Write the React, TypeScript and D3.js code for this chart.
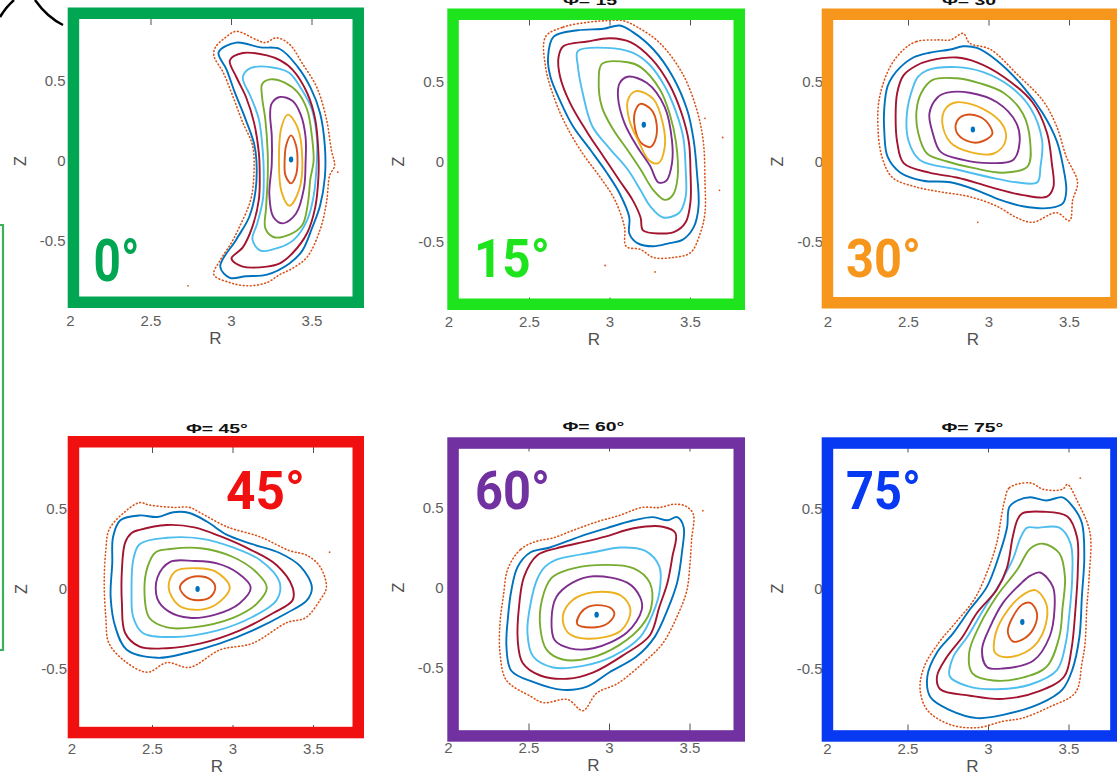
import React from "react";
import * as d3 from "d3";

// axis ticks
const rTicks = [2, 2.5, 3, 3.5];
const zTicks = [-0.5, 0, 0.5];

// matlab default colour order, from the innermost traced surface outwards
const surfaceColors = ["#D95319", "#EDB120", "#7E2F8E", "#77AC30", "#4DBEEE", "#A2142F", "#0072BD"];
const axisColor = "#0072BD";
const chaosColor = "#D95319";

const angleLabels = ["0°", "15°", "30°", "45°", "60°", "75°"];
const titles = ["Φ= 0°", "Φ= 15°", "Φ= 30°", "Φ= 45°", "Φ= 60°", "Φ= 75°"];
const frameColors = ["#00A651", "#1EE41E", "#F7961C", "#F01010", "#7131A0", "#0738F2"];

// ---- phi = 0 ----
const phi0Axis = [3.37, 0.01];
const phi0Surfaces = [
  [[3.37,0.16],[3.40,0.10],[3.41,0.0],[3.40,-0.09],[3.37,-0.14],[3.335,-0.09],[3.33,0.0],[3.34,0.10]],
  [[3.35,0.29],[3.41,0.21],[3.44,0.0],[3.42,-0.18],[3.36,-0.28],[3.31,-0.19],[3.295,0.0],[3.31,0.21]],
  [[3.25,0.36],[3.30,0.40],[3.38,0.375],[3.43,0.29],[3.46,0.15],[3.46,-0.01],[3.45,-0.17],[3.40,-0.33],[3.32,-0.39],[3.26,-0.35],[3.235,-0.21],[3.25,-0.02],[3.25,0.16],[3.24,0.29]],
  [[3.19,0.48],[3.24,0.51],[3.33,0.49],[3.41,0.43],[3.47,0.32],[3.50,0.15],[3.51,0.0],[3.49,-0.11],[3.475,-0.26],[3.44,-0.40],[3.36,-0.46],[3.26,-0.475],[3.21,-0.42],[3.215,-0.29],[3.225,-0.10],[3.225,0.05],[3.21,0.26],[3.19,0.40]],
  [[3.10,0.57],[3.16,0.59],[3.28,0.58],[3.36,0.55],[3.44,0.44],[3.50,0.32],[3.53,0.15],[3.53,0.0],[3.51,-0.22],[3.47,-0.37],[3.39,-0.49],[3.30,-0.54],[3.18,-0.56],[3.13,-0.49],[3.16,-0.39],[3.195,-0.24],[3.20,-0.06],[3.195,0.05],[3.17,0.26],[3.12,0.40],[3.07,0.52]],
  [[2.99,0.63],[3.07,0.675],[3.22,0.66],[3.30,0.63],[3.38,0.57],[3.47,0.425],[3.52,0.26],[3.54,0.05],[3.54,-0.10],[3.52,-0.29],[3.47,-0.45],[3.38,-0.575],[3.30,-0.64],[3.22,-0.66],[3.07,-0.66],[3.00,-0.61],[3.07,-0.54],[3.13,-0.41],[3.17,-0.24],[3.175,-0.06],[3.17,0.05],[3.14,0.24],[3.09,0.40],[3.03,0.525]],
  [[2.92,0.68],[3.03,0.74],[3.18,0.71],[3.30,0.70],[3.41,0.59],[3.49,0.46],[3.55,0.30],[3.58,0.09],[3.58,-0.10],[3.55,-0.28],[3.50,-0.42],[3.44,-0.56],[3.36,-0.64],[3.22,-0.71],[3.09,-0.72],[2.99,-0.73],[2.93,-0.66],[3.03,-0.49],[3.11,-0.35],[3.15,-0.18],[3.155,0.0],[3.14,0.11],[3.08,0.28],[3.02,0.43],[2.97,0.57]],
];
const phi0Chaos = [[2.90,0.71],[2.96,0.77],[3.03,0.81],[3.15,0.76],[3.21,0.74],[3.28,0.77],[3.36,0.73],[3.44,0.61],[3.53,0.46],[3.59,0.26],[3.62,0.07],[3.64,-0.03],[3.61,-0.09],[3.59,-0.26],[3.55,-0.43],[3.47,-0.60],[3.38,-0.67],[3.30,-0.71],[3.22,-0.76],[3.10,-0.78],[2.99,-0.76],[2.89,-0.71],[2.93,-0.62],[3.00,-0.51],[3.05,-0.41],[3.12,-0.24],[3.14,-0.06],[3.13,0.10],[3.07,0.24],[3.01,0.40],[2.95,0.55],[2.89,0.66]];
const phi0Strays = [[2.73,-0.78],[3.66,-0.07]];

// ---- phi = 15 ----
const phi15Axis = [3.21, 0.23];
const phi15Surfaces = [
  [[3.19,0.36],[3.26,0.32],[3.29,0.23],[3.28,0.13],[3.25,0.09],[3.19,0.12],[3.155,0.21],[3.155,0.31]],
  [[3.16,0.44],[3.27,0.39],[3.33,0.23],[3.34,0.09],[3.30,-0.01],[3.24,0.01],[3.18,0.12],[3.12,0.26],[3.11,0.38]],
  [[3.11,0.53],[3.23,0.49],[3.34,0.34],[3.385,0.13],[3.385,-0.01],[3.35,-0.12],[3.30,-0.13],[3.25,-0.03],[3.17,0.09],[3.09,0.24],[3.05,0.40],[3.06,0.49]],
  [[2.95,0.61],[3.11,0.62],[3.19,0.59],[3.31,0.45],[3.37,0.30],[3.41,0.12],[3.42,-0.10],[3.39,-0.21],[3.34,-0.24],[3.27,-0.18],[3.19,-0.05],[3.11,0.07],[3.02,0.20],[2.95,0.34],[2.93,0.50]],
  [[2.80,0.69],[2.98,0.71],[3.14,0.68],[3.25,0.60],[3.34,0.47],[3.41,0.31],[3.455,0.15],[3.47,-0.05],[3.47,-0.22],[3.43,-0.32],[3.33,-0.35],[3.25,-0.28],[3.19,-0.18],[3.11,-0.05],[2.99,0.09],[2.89,0.22],[2.83,0.43],[2.80,0.60]],
  [[2.68,0.65],[2.71,0.72],[2.86,0.75],[3.0,0.77],[3.13,0.745],[3.26,0.64],[3.37,0.48],[3.445,0.30],[3.49,0.12],[3.50,-0.07],[3.50,-0.25],[3.47,-0.38],[3.40,-0.44],[3.31,-0.45],[3.205,-0.43],[3.19,-0.35],[3.14,-0.24],[3.06,-0.12],[2.96,0.03],[2.86,0.18],[2.75,0.37],[2.69,0.53]],
  [[2.615,0.65],[2.65,0.78],[2.80,0.82],[2.96,0.83],[3.06,0.85],[3.14,0.81],[3.27,0.70],[3.39,0.53],[3.48,0.32],[3.52,0.13],[3.54,-0.07],[3.55,-0.28],[3.52,-0.41],[3.45,-0.49],[3.37,-0.51],[3.27,-0.53],[3.17,-0.51],[3.12,-0.45],[3.12,-0.35],[3.06,-0.20],[2.98,-0.07],[2.88,0.07],[2.77,0.22],[2.69,0.38],[2.63,0.53]],
];
const phi15Chaos = [[2.60,0.78],[2.71,0.84],[2.86,0.87],[2.98,0.88],[3.08,0.88],[3.17,0.84],[3.31,0.74],[3.45,0.55],[3.54,0.32],[3.58,0.12],[3.59,-0.13],[3.59,-0.32],[3.56,-0.45],[3.50,-0.57],[3.39,-0.60],[3.27,-0.60],[3.19,-0.55],[3.10,-0.53],[3.09,-0.41],[3.03,-0.24],[2.94,-0.10],[2.83,0.05],[2.73,0.22],[2.66,0.38],[2.60,0.59]];
const phi15Strays = [[3.59,0.27],[3.70,0.15],[3.68,-0.18],[2.97,-0.65],[3.28,-0.69]];

// ---- phi = 30 ----
const phi30Axis = [2.90, 0.20];
const phi30Surfaces = [
  [[2.85,0.29],[2.94,0.28],[3.0,0.23],[3.02,0.17],[2.94,0.12],[2.86,0.13],[2.80,0.18],[2.80,0.25]],
  [[2.80,0.37],[2.96,0.33],[3.09,0.22],[3.10,0.12],[3.03,0.05],[2.88,0.06],[2.76,0.12],[2.71,0.24],[2.73,0.33]],
  [[2.74,0.43],[2.88,0.43],[3.05,0.37],[3.17,0.24],[3.19,0.12],[3.15,0.01],[3.01,-0.01],[2.84,0.01],[2.70,0.06],[2.65,0.18],[2.63,0.30],[2.68,0.40]],
  [[2.65,0.51],[2.80,0.52],[2.94,0.49],[3.09,0.43],[3.21,0.30],[3.255,0.13],[3.24,-0.03],[3.09,-0.07],[2.90,-0.04],[2.74,0.0],[2.615,0.05],[2.56,0.18],[2.55,0.32],[2.58,0.43]],
  [[2.615,0.57],[2.80,0.59],[2.96,0.56],[3.13,0.47],[3.26,0.33],[3.33,0.13],[3.32,-0.03],[3.30,-0.13],[3.17,-0.13],[3.01,-0.10],[2.80,-0.05],[2.57,0.01],[2.50,0.13],[2.49,0.30],[2.53,0.47],[2.56,0.53]],
  [[2.55,0.60],[2.63,0.63],[2.80,0.65],[2.925,0.62],[3.09,0.53],[3.27,0.37],[3.36,0.18],[3.39,-0.01],[3.40,-0.16],[3.36,-0.22],[3.21,-0.21],[3.01,-0.16],[2.80,-0.10],[2.63,-0.07],[2.47,-0.01],[2.43,0.12],[2.42,0.28],[2.43,0.43],[2.47,0.54]],
  [[2.45,0.59],[2.53,0.65],[2.63,0.68],[2.76,0.70],[2.84,0.72],[2.925,0.71],[3.05,0.63],[3.21,0.47],[3.335,0.30],[3.42,0.13],[3.46,-0.03],[3.48,-0.18],[3.46,-0.26],[3.38,-0.29],[3.21,-0.28],[3.07,-0.24],[2.925,-0.18],[2.76,-0.13],[2.59,-0.12],[2.45,-0.07],[2.37,0.03],[2.35,0.18],[2.35,0.34],[2.37,0.47],[2.40,0.53]],
];
const phi30Chaos = [[2.47,0.70],[2.55,0.75],[2.68,0.76],[2.76,0.76],[2.84,0.80],[2.88,0.74],[3.01,0.70],[3.17,0.55],[3.335,0.38],[3.42,0.22],[3.48,0.03],[3.55,-0.13],[3.52,-0.24],[3.50,-0.37],[3.42,-0.32],[3.27,-0.38],[3.17,-0.35],[3.05,-0.28],[2.88,-0.22],[2.70,-0.19],[2.55,-0.16],[2.40,-0.10],[2.335,0.03],[2.31,0.22],[2.32,0.40],[2.385,0.59]];
const phi30Strays = [[2.93,-0.38]];

// ---- phi = 45 ----
const phi45Axis = [2.78, 0.0];
const phi45Surfaces = [
  [[2.78,0.08],[2.86,0.06],[2.89,0.01],[2.86,-0.05],[2.78,-0.07],[2.71,-0.05],[2.67,0.01],[2.71,0.06]],
  [[2.78,0.13],[2.89,0.11],[2.98,0.01],[2.89,-0.10],[2.76,-0.13],[2.66,-0.10],[2.60,0.01],[2.64,0.11]],
  [[2.61,0.17],[2.76,0.175],[2.90,0.16],[3.03,0.10],[3.11,0.01],[3.04,-0.09],[2.89,-0.16],[2.73,-0.18],[2.60,-0.14],[2.53,-0.06],[2.53,0.07]],
  [[2.52,0.23],[2.61,0.25],[2.80,0.255],[3.0,0.20],[3.15,0.10],[3.21,0.01],[3.15,-0.09],[3.0,-0.18],[2.75,-0.24],[2.59,-0.24],[2.48,-0.18],[2.45,-0.01],[2.47,0.14]],
  [[2.42,0.28],[2.59,0.32],[2.80,0.315],[3.0,0.26],[3.17,0.18],[3.29,0.04],[3.27,-0.07],[3.12,-0.175],[2.90,-0.26],[2.63,-0.30],[2.44,-0.275],[2.38,-0.175],[2.37,-0.01],[2.38,0.18]],
  [[2.37,0.35],[2.42,0.37],[2.59,0.40],[2.76,0.385],[2.92,0.33],[3.11,0.245],[3.27,0.15],[3.37,0.01],[3.37,-0.07],[3.25,-0.15],[3.04,-0.26],[2.80,-0.34],[2.59,-0.37],[2.42,-0.36],[2.33,-0.275],[2.31,-0.09],[2.31,0.12],[2.33,0.29]],
  [[2.30,0.43],[2.42,0.46],[2.53,0.45],[2.63,0.48],[2.73,0.475],[2.84,0.42],[2.96,0.34],[3.12,0.28],[3.29,0.225],[3.42,0.14],[3.49,0.01],[3.46,-0.07],[3.335,-0.15],[3.12,-0.26],[2.92,-0.34],[2.71,-0.40],[2.53,-0.43],[2.34,-0.38],[2.27,-0.24],[2.24,-0.05],[2.25,0.16],[2.255,0.325]],
];
const phi45Chaos = [[2.32,0.475],[2.42,0.54],[2.48,0.525],[2.63,0.51],[2.73,0.51],[2.80,0.475],[2.96,0.39],[3.17,0.325],[3.35,0.24],[3.46,0.21],[3.54,0.14],[3.58,0.01],[3.54,-0.07],[3.45,-0.18],[3.335,-0.21],[3.12,-0.34],[2.92,-0.38],[2.73,-0.49],[2.59,-0.46],[2.47,-0.52],[2.34,-0.46],[2.23,-0.34],[2.21,-0.175],[2.20,0.04],[2.21,0.24],[2.23,0.37]];
const phi45Strays = [[3.60,0.23]];

// ---- phi = 60 ----
const phi60Axis = [2.92, -0.17];
const phi60Surfaces = [
  [[2.92,-0.11],[3.01,-0.13],[3.03,-0.17],[2.98,-0.23],[2.89,-0.25],[2.80,-0.23],[2.82,-0.16],[2.87,-0.12]],
  [[2.90,-0.03],[3.07,-0.05],[3.13,-0.14],[3.07,-0.27],[2.86,-0.32],[2.74,-0.28],[2.71,-0.18],[2.77,-0.08]],
  [[2.90,0.07],[3.11,0.03],[3.19,-0.06],[3.20,-0.14],[3.11,-0.28],[2.90,-0.38],[2.755,-0.38],[2.66,-0.33],[2.64,-0.20],[2.67,-0.06],[2.77,0.03]],
  [[2.74,0.11],[2.92,0.14],[3.15,0.12],[3.25,0.03],[3.26,-0.12],[3.20,-0.24],[3.06,-0.36],[2.88,-0.44],[2.71,-0.45],[2.61,-0.39],[2.57,-0.25],[2.58,-0.08],[2.64,0.06]],
  [[2.66,0.17],[2.90,0.22],[3.07,0.25],[3.22,0.23],[3.31,0.13],[3.31,-0.03],[3.27,-0.16],[3.19,-0.31],[3.02,-0.43],[2.835,-0.49],[2.65,-0.50],[2.525,-0.43],[2.49,-0.28],[2.51,-0.10],[2.55,0.05],[2.60,0.13]],
  [[2.55,0.20],[2.67,0.245],[2.82,0.28],[2.98,0.32],[3.15,0.37],[3.33,0.38],[3.41,0.34],[3.39,0.19],[3.36,0.03],[3.31,-0.12],[3.25,-0.30],[3.09,-0.42],[2.90,-0.53],[2.74,-0.57],[2.57,-0.55],[2.46,-0.47],[2.43,-0.33],[2.44,-0.10],[2.47,0.07]],
  [[2.43,0.13],[2.51,0.22],[2.63,0.25],[2.82,0.32],[2.98,0.37],[3.15,0.42],[3.27,0.44],[3.36,0.42],[3.42,0.44],[3.46,0.38],[3.45,0.22],[3.42,0.03],[3.36,-0.14],[3.28,-0.31],[3.17,-0.43],[3.0,-0.53],[2.86,-0.62],[2.71,-0.64],[2.525,-0.59],[2.39,-0.52],[2.36,-0.37],[2.37,-0.18],[2.39,-0.02]],
];
const phi60Chaos = [[2.37,0.12],[2.45,0.24],[2.55,0.29],[2.65,0.31],[2.78,0.36],[2.92,0.41],[3.06,0.45],[3.20,0.50],[3.31,0.50],[3.40,0.52],[3.47,0.51],[3.52,0.46],[3.51,0.30],[3.50,0.15],[3.48,-0.02],[3.42,-0.18],[3.33,-0.35],[3.21,-0.47],[3.05,-0.60],[2.92,-0.66],[2.835,-0.77],[2.74,-0.70],[2.59,-0.72],[2.51,-0.68],[2.36,-0.58],[2.32,-0.41],[2.32,-0.22],[2.34,-0.06]];
const phi60Strays = [[3.58,0.48]];

// ---- phi = 75 ----
const phi75Axis = [3.21, -0.21];
const phi75Surfaces = [
  [[3.26,-0.09],[3.30,-0.15],[3.28,-0.25],[3.21,-0.32],[3.15,-0.33],[3.12,-0.27],[3.15,-0.18],[3.21,-0.10]],
  [[3.29,-0.01],[3.36,-0.10],[3.345,-0.26],[3.26,-0.38],[3.115,-0.43],[3.04,-0.40],[3.04,-0.30],[3.09,-0.18],[3.20,-0.05]],
  [[3.32,0.10],[3.40,0.01],[3.41,-0.13],[3.38,-0.30],[3.28,-0.45],[3.09,-0.50],[2.99,-0.49],[2.96,-0.38],[3.01,-0.24],[3.09,-0.09],[3.20,0.03],[3.26,0.08]],
  [[3.34,0.28],[3.44,0.22],[3.475,0.07],[3.46,-0.12],[3.44,-0.30],[3.36,-0.49],[3.20,-0.56],[3.03,-0.575],[2.90,-0.53],[2.88,-0.40],[2.95,-0.22],[3.05,-0.05],[3.18,0.12],[3.26,0.25]],
  [[3.30,0.38],[3.44,0.38],[3.51,0.28],[3.52,0.07],[3.50,-0.18],[3.48,-0.34],[3.425,-0.51],[3.26,-0.60],[3.05,-0.63],[2.87,-0.61],[2.76,-0.55],[2.78,-0.43],[2.87,-0.30],[2.97,-0.13],[3.07,0.03],[3.15,0.18],[3.20,0.32],[3.24,0.38]],
  [[3.21,0.47],[3.34,0.48],[3.49,0.45],[3.55,0.32],[3.555,0.12],[3.54,-0.13],[3.515,-0.38],[3.47,-0.55],[3.32,-0.64],[3.09,-0.69],[2.885,-0.67],[2.70,-0.63],[2.68,-0.55],[2.74,-0.43],[2.84,-0.30],[2.93,-0.15],[3.05,-0.01],[3.115,0.13],[3.15,0.32],[3.18,0.43]],
  [[3.18,0.55],[3.26,0.57],[3.36,0.55],[3.46,0.57],[3.525,0.51],[3.58,0.41],[3.595,0.20],[3.58,-0.05],[3.565,-0.30],[3.52,-0.51],[3.46,-0.63],[3.32,-0.72],[3.09,-0.79],[2.93,-0.81],[2.76,-0.76],[2.64,-0.68],[2.62,-0.55],[2.68,-0.40],[2.78,-0.28],[2.885,-0.13],[2.99,0.01],[3.07,0.22],[3.115,0.38],[3.13,0.51]],
];
const phi75Chaos = [[3.10,0.55],[3.13,0.63],[3.26,0.66],[3.34,0.62],[3.46,0.62],[3.49,0.65],[3.55,0.55],[3.63,0.35],[3.625,0.07],[3.61,-0.13],[3.60,-0.34],[3.58,-0.47],[3.54,-0.65],[3.38,-0.74],[3.21,-0.81],[3.09,-0.83],[2.93,-0.87],[2.76,-0.85],[2.62,-0.76],[2.575,-0.63],[2.60,-0.49],[2.69,-0.34],[2.79,-0.22],[2.91,-0.07],[2.99,0.10],[3.05,0.28],[3.08,0.45]];
const phi75Strays = [[3.57,0.69]];

const panelData = [
  { axis: phi0Axis, surfaces: phi0Surfaces, chaos: phi0Chaos, strays: phi0Strays },
  { axis: phi15Axis, surfaces: phi15Surfaces, chaos: phi15Chaos, strays: phi15Strays },
  { axis: phi30Axis, surfaces: phi30Surfaces, chaos: phi30Chaos, strays: phi30Strays },
  { axis: phi45Axis, surfaces: phi45Surfaces, chaos: phi45Chaos, strays: phi45Strays },
  { axis: phi60Axis, surfaces: phi60Surfaces, chaos: phi60Chaos, strays: phi60Strays },
  { axis: phi75Axis, surfaces: phi75Surfaces, chaos: phi75Chaos, strays: phi75Strays },
];

// page layout (pixels): where R=2 sits, where Z=0 sits, the highlight frame, the big label
const layout = [
  { left: 70.5, zero: 161, frame: [67.7, 7.5, 296.3, 300.5], label: [93.5, 281, 60, 46], title: false },
  { left: 449, zero: 161.5, frame: [447.3, 8.5, 297.7, 301.5], label: [474, 277, 54, 76], title: true },
  { left: 828, zero: 161.5, frame: [821.7, 8.5, 300, 300], label: [846, 277, 54, 75], title: true },
  { left: 72, zero: 589, frame: [67.7, 436, 296.3, 302.3], label: [226, 508.5, 54, 79], title: true },
  { left: 448.5, zero: 587.5, frame: [447.3, 437.3, 297.7, 304.4], label: [475, 508.5, 54, 75], title: true },
  { left: 827.5, zero: 588.5, frame: [821.7, 437.3, 300, 304.4], label: [846, 508.5, 54, 75], title: true },
];

const W = 1117;
const H = 776;
const plotW = 1.8 * 161;
const plotH = 1.8 * 160;
const FRAME = 11.5;

const x = d3.scaleLinear().domain([2, 3.8]).range([0, plotW]);
const y = d3.scaleLinear().domain([-0.9, 0.9]).range([plotH, 0]);

const closed = d3
  .line<number[]>()
  .x((d) => x(d[0]))
  .y((d) => y(d[1]))
  .curve(d3.curveCatmullRomClosed.alpha(0.5));

const tickFont = "'Liberation Sans', Arial, sans-serif";

function Panel({ i }: { i: number }) {
  const L = layout[i];
  const D = panelData[i];
  const top = L.zero - plotH / 2;
  return (
    <g>
      <g transform={`translate(${L.left},${top})`}>
        <clipPath id={`clip${i}`}>
          <rect x={0} y={0} width={plotW} height={plotH} />
        </clipPath>
        {/* ticks inside the box */}
        {rTicks.map((t) => (
          <g key={"rt" + t} stroke="#262626" strokeWidth={0.8}>
            <line x1={x(t)} x2={x(t)} y1={plotH} y2={plotH - 8} />
            <line x1={x(t)} x2={x(t)} y1={0} y2={8} />
          </g>
        ))}
        {rTicks.map((t) => (
          <text key={"rl" + t} x={x(t)} y={plotH + 21} textAnchor="middle" fontSize={15} fill="#5e5e5e" fontFamily={tickFont}>
            {String(t)}
          </text>
        ))}
        {zTicks.map((t) => (
          <text key={"zl" + t} x={-5} y={y(t)} dy="0.36em" textAnchor="end" fontSize={15} fill="#5e5e5e" fontFamily={tickFont}>
            {String(t)}
          </text>
        ))}
        <text x={plotW / 2} y={plotH + 39} textAnchor="middle" fontSize={17} fill="#505050" fontFamily={tickFont}>
          R
        </text>
        <text
          transform={`translate(${-45},${plotH / 2}) rotate(-90)`}
          textAnchor="middle"
          fontSize={16}
          fill="#505050"
          fontFamily={tickFont}
        >
          Z
        </text>
        {L.title && (
          <text
            x={plotW / 2}
            y={-12.5}
            textAnchor="middle"
            fontSize={12.5}
            fontWeight="bold"
            fill="#111"
            fontFamily={tickFont}
            textLength={62}
            lengthAdjust="spacingAndGlyphs"
          >
            {titles[i]}
          </text>
        )}
        <g clipPath={`url(#clip${i})`}>
          {D.surfaces.map((s, k) => (
            <path key={k} d={closed(s) || ""} fill="none" stroke={surfaceColors[k]} strokeWidth={1.9} />
          ))}
          <path
            d={closed(D.chaos) || ""}
            fill="none"
            stroke={chaosColor}
            strokeWidth={1.6}
            strokeDasharray="0.8 2.8"
            strokeLinecap="round"
          />
          {D.strays.map((p, k) => (
            <circle key={k} cx={x(p[0])} cy={y(p[1])} r={0.9} fill={chaosColor} />
          ))}
          <ellipse cx={x(D.axis[0])} cy={y(D.axis[1])} rx={2.2} ry={3} fill={axisColor} />
        </g>
      </g>
      <rect
        x={L.frame[0] + FRAME / 2}
        y={L.frame[1] + FRAME / 2}
        width={L.frame[2] - FRAME}
        height={L.frame[3] - FRAME}
        fill="none"
        stroke={frameColors[i]}
        strokeWidth={FRAME}
      />
      <text
        x={L.label[0]}
        y={L.label[1]}
        fontFamily="Roboto, 'Open Sans', sans-serif"
        fontWeight={700}
        fontSize={L.label[2]}
        fill={frameColors[i]}
        textLength={L.label[3]}
        lengthAdjust="spacingAndGlyphs"
      >
        {angleLabels[i]}
      </text>
    </g>
  );
}

export default function App() {
  return (
    <svg
      width={W}
      height={H}
      viewBox={`0 0 ${W} ${H}`}
      style={{ position: "absolute", left: 0, top: 0, background: "#fff" }}
    >
      <rect width={W} height={H} fill="#fff" />
      {/* stray annotation marks at the page edge */}
      <path d="M0,17 Q6,7 14,0" fill="none" stroke="#000" strokeWidth={2.5} />
      <path d="M35,0 Q47,17 63,25" fill="none" stroke="#000" strokeWidth={2.5} />
      <path d="M0,225 H3 V650 H0" fill="none" stroke="#3DB05C" strokeWidth={2.2} />
      {layout.map((_, i) => (
        <Panel key={i} i={i} />
      ))}
    </svg>
  );
}
